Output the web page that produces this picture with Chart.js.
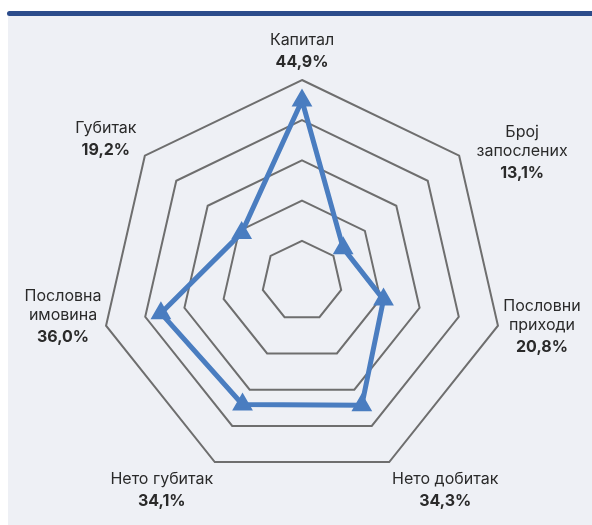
<!DOCTYPE html>
<html>
<head>
<meta charset="utf-8">
<script src="https://cdn.jsdelivr.net/npm/chart.js@4"></script>
<style>
  body { margin: 0; background: #ffffff; }
  #wrap { position: relative; width: 592px; height: 525px; }
  #panel { position: absolute; left: 8px; top: 14px; width: 584px; height: 511px; background: #eef0f5; }
  #bar { position: absolute; left: 7px; top: 11px; width: 585px; height: 5px; background: #2c4c8b; border-radius: 3px 0 0 3px; }
  canvas { position: absolute; left: 0; top: 0; }
</style>
</head>
<body>
<div id="wrap">
  <div id="panel"></div>
  <div id="bar"></div>
  <canvas id="radarChart" width="592" height="525"></canvas>
</div>
<script>
// categories and their shares (in %)
var categories = [
  ["Капитал"],
  ["Број", "запослених"],
  ["Пословни", "приходи"],
  ["Нето добитак"],
  ["Нето губитак"],
  ["Пословна", "имовина"],
  ["Губитак"]
];
var shares = [44.9, 13.1, 20.8, 34.3, 34.1, 36.0, 19.2];
var shareLabels = ["44,9%", "13,1%", "20,8%", "34,3%", "34,1%", "36,0%", "19,2%"];

// where each label block sits relative to the outer vertex (dx, dy of block centre)
var labelOffsets = [[0, -29], [63, -3], [44, 1], [56, 28], [-53, 28], [-43, -9], [-39, -16]];

var fontFamily = "Inter, 'Noto Sans', sans-serif";

// draws the two-style point labels (name regular, value bold)
var labelPlugin = {
  id: "labelPlugin",
  afterDraw: function(chart) {
    var scale = chart.scales.r;
    var ctx = chart.ctx;
    ctx.save();
    ctx.textAlign = "center";
    ctx.textBaseline = "middle";
    ctx.fillStyle = "#2a2a2a";
    for (var i = 0; i < categories.length; i++) {
      var p = scale.getPointPosition(i, scale.drawingArea);
      var cx = p.x + labelOffsets[i][0];
      var cy = p.y + labelOffsets[i][1];
      var lines = categories[i];
      var total = (lines.length - 1) * 19 + 22;
      var y = cy - total / 2;
      ctx.font = "16px " + fontFamily;
      for (var j = 0; j < lines.length; j++) {
        ctx.fillText(lines[j], cx, y + j * 19);
      }
      ctx.font = "bold 16px " + fontFamily;
      ctx.fillText(shareLabels[i], cx, y + (lines.length - 1) * 19 + 22);
    }
    ctx.restore();
  }
};

var radarChart = new Chart(document.getElementById("radarChart"), {
  type: 'radar',
  data: {
    labels: categories,
    datasets: [
      {
        data: shares,
        borderColor: "#4a7dc0",
        backgroundColor: "#4a7dc0",
        borderWidth: 5,
        borderJoinStyle: "round",
        pointStyle: "triangle",
        pointRadius: 9,
        pointBorderWidth: 3,
        pointBackgroundColor: "#4a7dc0",
        pointBorderColor: "#4a7dc0",
        fill: false
      }
    ]
  },
  options: {
    responsive: false,
    animation: false,
    layout: { padding: { left: 101, right: 89, top: 80, bottom: 43 } },
    scales: {
      r: {
        min: 0,
        max: 50,
        ticks: { stepSize: 10, display: false },
        grid: { color: "#6e6e6e", lineWidth: 2 },
        angleLines: { display: false },
        pointLabels: { display: false }
      }
    },
    plugins: {
      legend: { display: false },
      tooltip: { enabled: false }
    }
  },
  plugins: [labelPlugin]
});
</script>
</body>
</html>
